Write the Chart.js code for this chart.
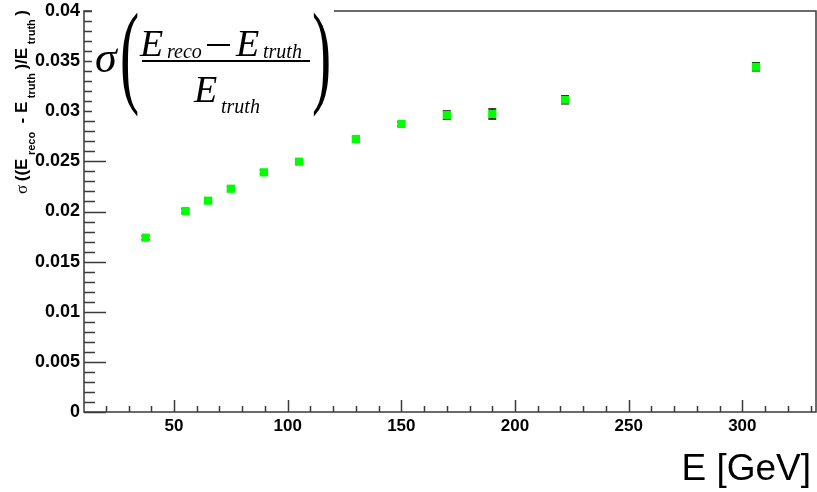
<!DOCTYPE html>
<html><head><meta charset="utf-8">
<style>html,body{margin:0;padding:0;background:#fff;overflow:hidden}#wrap{width:817px;height:492px}</style>
<script src="https://cdn.jsdelivr.net/npm/chart.js@4.4.1/dist/chart.umd.min.js"></script>
</head><body><div id="wrap"><canvas id="c" width="817" height="492"></canvas></div>
<script>
// ---- data ----
const energies = [37.5, 55, 65, 75, 89.5, 105, 130, 150, 170, 190, 222, 306];
const resolution = [0.01739, 0.02005, 0.02108, 0.02227, 0.02391, 0.02497, 0.02723, 0.02873, 0.02963, 0.02973, 0.03115, 0.03444];
const resolutionErr = [0.0002, 0.0002, 0.0002, 0.0002, 0.0002, 0.0002, 0.0002, 0.0002, 0.0004, 0.0005, 0.0004, 0.0004];
const xTickValues = [50, 100, 150, 200, 250, 300];
const xTickLabels = ['50', '100', '150', '200', '250', '300'];
const yTickValues = [0, 0.005, 0.01, 0.015, 0.02, 0.025, 0.03, 0.035, 0.04];
const yTickLabels = ['0', '0.005', '0.01', '0.015', '0.02', '0.025', '0.03', '0.035', '0.04'];
const xTitle = 'E [GeV]';

const AXIS_COLOR = '#3a3a3a';

const errorBars = {
  id: 'errorBars',
  beforeDatasetsDraw(chart) {
    const {ctx, scales: {x, y}} = chart;
    ctx.save();
    ctx.strokeStyle = '#000';
    ctx.lineWidth = 1.5;
    energies.forEach((e, i) => {
      const px = x.getPixelForValue(e);
      const yt = y.getPixelForValue(resolution[i] + resolutionErr[i]);
      const yb = y.getPixelForValue(resolution[i] - resolutionErr[i]);
      ctx.beginPath();
      ctx.moveTo(px, yt); ctx.lineTo(px, yb);
      ctx.moveTo(px - 4, yt); ctx.lineTo(px + 4, yt);
      ctx.moveTo(px - 4, yb); ctx.lineTo(px + 4, yb);
      ctx.stroke();
    });
    ctx.restore();
  }
};

const frameTicks = {
  id: 'frameTicks',
  afterDatasetsDraw(chart) {
    const {ctx, chartArea: a, scales: {x, y}} = chart;
    ctx.save();
    ctx.strokeStyle = AXIS_COLOR;
    ctx.lineWidth = 1.5;
    ctx.strokeRect(a.left, a.top, a.right - a.left, a.bottom - a.top);
    ctx.beginPath();
    for (let v = 20; v <= x.max; v += 10) {
      const px = Math.round(x.getPixelForValue(v)) + 0.5;
      const len = (v % 50 === 0) ? 12 : 6;
      ctx.moveTo(px, a.bottom); ctx.lineTo(px, a.bottom - len);
    }
    for (let k = 0; k <= 40; k++) {
      const v = k * 0.001;
      const py = Math.round(y.getPixelForValue(v)) + 0.5;
      const len = (k % 5 === 0) ? 22 : 11;
      ctx.moveTo(a.left, py); ctx.lineTo(a.left + len, py);
    }
    ctx.stroke();
    ctx.restore();
  }
};

const annotations = {
  id: 'annotations',
  afterDraw(chart) {
    const ctx = chart.ctx;
    ctx.save();
    ctx.fillStyle = '#fff';
    ctx.fillRect(92, 0, 242, 120);
    ctx.fillStyle = '#000';
    ctx.textAlign = 'left';
    ctx.textBaseline = 'alphabetic';
    ctx.font = 'italic 44px "Liberation Serif"';
    ctx.fillText('σ', 95, 72);
    const paren = (ch, px, py) => {
      ctx.save(); ctx.translate(px, py); ctx.scale(0.5, 1);
      ctx.font = '115px "Liberation Serif"';
      ctx.fillText(ch, 0, 0); ctx.restore();
    };
    paren('(', 120, 92);
    paren(')', 312, 92);
    ctx.font = 'italic 38px "Liberation Serif"';
    ctx.fillText('E', 140, 56);
    ctx.fillText('E', 236, 56);
    ctx.fillText('E', 194, 102);
    ctx.font = 'italic 20px "Liberation Serif"';
    ctx.fillText('reco', 167, 58);
    ctx.fillText('truth', 263, 58);
    ctx.fillText('truth', 221, 113);
    ctx.fillRect(207, 44, 23, 2);
    ctx.fillRect(142, 60, 168, 2);

    const segs = [
      {t: 'σ', f: '17px "Liberation Serif"', dy: 0},
      {t: '((E', f: 'bold 17px "Liberation Sans"', dy: 0},
      {t: 'reco', f: 'bold 11px "Liberation Sans"', dy: 8},
      {t: ' - E', f: 'bold 17px "Liberation Sans"', dy: 0},
      {t: 'truth', f: 'bold 11px "Liberation Sans"', dy: 8},
      {t: ')/E', f: 'bold 17px "Liberation Sans"', dy: 0},
      {t: 'truth', f: 'bold 11px "Liberation Sans"', dy: 8},
      {t: ')', f: 'bold 17px "Liberation Sans"', dy: 0}
    ];
    let total = 0;
    segs.forEach(s => { ctx.font = s.f; s.w = ctx.measureText(s.t).width; total += s.w; });
    const gap = Math.max(0, (184 - total) / (segs.length - 1));
    ctx.translate(27, 194);
    ctx.rotate(-Math.PI / 2);
    let u = 0;
    segs.forEach(s => { ctx.font = s.f; ctx.fillText(s.t, u, s.dy); u += s.w + gap; });
    ctx.restore();

    ctx.save();
    ctx.fillStyle = '#000';
    ctx.font = '37px "Liberation Sans"';
    ctx.textAlign = 'right';
    ctx.textBaseline = 'alphabetic';
    ctx.fillText(xTitle, 811, 480);
    ctx.restore();
  }
};

const tickFont = {family: '"Liberation Sans", Arial, sans-serif', size: 18, weight: 'bold'};

new Chart(document.getElementById('c'), {
  type: 'scatter',
  data: {
    datasets: [{
      data: energies.map((e, i) => ({x: e, y: resolution[i]})),
      pointStyle: 'rect',
      pointRadius: 5.8,
      pointBackgroundColor: '#00ff00',
      pointBorderColor: '#00ff00',
      pointBorderWidth: 0,
      showLine: false
    }]
  },
  options: {
    responsive: false,
    animation: false,
    devicePixelRatio: 1,
    layout: {autoPadding: false, padding: {top: 11, right: 1, left: 0, bottom: 0}},
    plugins: {legend: {display: false}, tooltip: {enabled: false}},
    scales: {
      x: {
        type: 'linear', min: 10.4, max: 332.4,
        grid: {display: false, drawTicks: false},
        border: {display: false},
        afterBuildTicks: s => { s.ticks = xTickValues.map(v => ({value: v})); },
        afterFit: s => { s.height = 80; s.paddingLeft = 0; s.paddingRight = 0; },
        ticks: {
          font: {...tickFont, size: 17}, color: '#000', padding: 4, maxRotation: 0, autoSkip: false,
          callback: (v) => xTickLabels[xTickValues.indexOf(v)]
        }
      },
      y: {
        type: 'linear', min: 0, max: 0.04,
        grid: {display: false, drawTicks: false},
        border: {display: false},
        afterBuildTicks: s => { s.ticks = yTickValues.map(v => ({value: v})); },
        afterFit: s => { s.width = 84; s.paddingTop = 0; s.paddingBottom = 0; },
        ticks: {
          font: tickFont, color: '#000', padding: 4, autoSkip: false,
          callback: (v) => yTickLabels[yTickValues.indexOf(v)]
        }
      }
    }
  },
  plugins: [errorBars, frameTicks, annotations]
});
</script>
</body></html>
